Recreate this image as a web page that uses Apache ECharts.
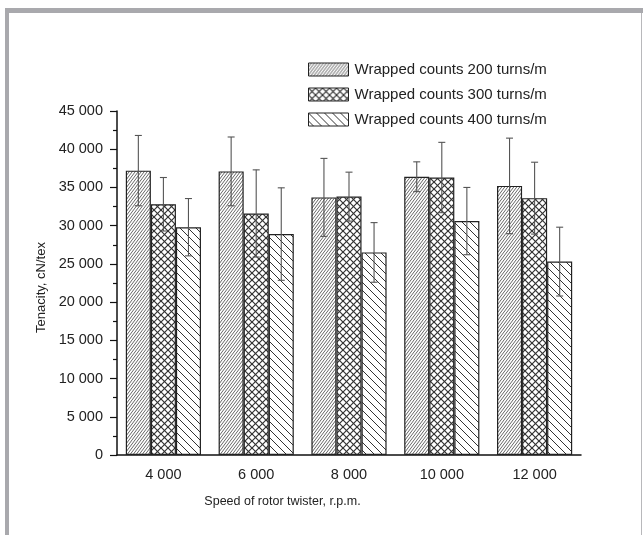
<!DOCTYPE html>
<html>
<head>
<meta charset="utf-8">
<script src="https://cdn.jsdelivr.net/npm/echarts@6/dist/echarts.min.js"></script>
<style>
  html, body { margin: 0; padding: 0; background: #fff; }
  #chart { width: 643px; height: 535px; }
</style>
</head>
<body>
<div id="chart"></div>
<script>
const speeds = ['4 000', '6 000', '8 000', '10 000', '12 000'];
const seriesNames = [
  'Wrapped counts 200 turns/m',
  'Wrapped counts 300 turns/m',
  'Wrapped counts 400 turns/m',
];
const tenacity200 = [37200, 37100, 33700, 36400, 35200];
const tenacity300 = [32800, 31600, 33800, 36300, 33600];
const tenacity400 = [29800, 28900, 26500, 30600, 25300];
const sd200 = [4600, 4500, 5100, 1950, 6250];
const sd300 = [3500, 5700, 3200, 4600, 4700];
const sd400 = [3750, 6050, 3900, 4400, 4500];

const values = [tenacity200, tenacity300, tenacity400];
const errors = [sd200, sd300, sd400];

const FONT = '"Liberation Sans", Arial, sans-serif';
const CAT_GAP = 0.19;

// hatch fill tiles, w x h, lines corner to corner
function hatch(w, h, dirs, lw, color) {
  const c = document.createElement('canvas');
  c.width = w;
  c.height = h;
  const g = c.getContext('2d');
  g.fillStyle = '#fff';
  g.fillRect(0, 0, w, h);
  g.strokeStyle = color;
  g.lineWidth = lw;
  dirs.forEach((d) => {
    for (let k = -w; k <= w; k += w) {
      g.beginPath();
      if (d === '/') {
        g.moveTo(k, h);
        g.lineTo(k + w, 0);
      } else {
        g.moveTo(k, 0);
        g.lineTo(k + w, h);
      }
      g.stroke();
    }
  });
  return { image: c, repeat: 'repeat' };
}

const fills = [
  hatch(3, 4, ['/'], 0.75, '#333'),
  hatch(7, 7, ['/', '\\'], 1.2, '#333'),
  hatch(8, 8, ['\\'], 1, '#333'),
];

const chart = echarts.init(document.getElementById('chart'));

const barSeries = seriesNames.map((name, k) => ({
  name,
  type: 'bar',
  data: values[k],
  barGap: '0%',
  barCategoryGap: CAT_GAP * 100 + '%',
  itemStyle: { color: fills[k], borderColor: '#222', borderWidth: 1.2 },
  z: 2,
}));

const errorSeries = seriesNames.map((name, k) => ({
  name: name + ' SD',
  type: 'custom',
  data: values[k].map((v, i) => [i, v, errors[k][i]]),
  encode: { x: 0, y: 1 },
  z: 5,
  renderItem(params, api) {
    const i = api.value(0);
    const v = api.value(1);
    const e = api.value(2);
    const band = api.size([1, 0])[0];
    const bw = band * (1 - CAT_GAP) / 3;
    const x = api.coord([i, v])[0] + (k - 1) * bw;
    const top = api.coord([i, v + e])[1];
    const bot = api.coord([i, v - e])[1];
    const style = { stroke: '#555', lineWidth: 1.1 };
    const cap = 3.5;
    return {
      type: 'group',
      children: [
        { type: 'line', shape: { x1: x, y1: top, x2: x, y2: bot }, style },
        { type: 'line', shape: { x1: x - cap, y1: top, x2: x + cap, y2: top }, style },
        { type: 'line', shape: { x1: x - cap, y1: bot, x2: x + cap, y2: bot }, style },
      ],
    };
  },
}));

chart.setOption({
  animation: false,
  backgroundColor: '#fff',
  textStyle: { fontFamily: FONT },
  grid: { left: 117, right: 62, top: 111, bottom: 80 },
  legend: {
    data: seriesNames,
    orient: 'vertical',
    left: 308,
    top: 62,
    padding: 0,
    itemWidth: 40,
    itemHeight: 13,
    itemGap: 10,
    icon: 'rect',
    itemStyle: { borderColor: '#222', borderWidth: 1 },
    textStyle: { fontSize: 15, color: '#222', fontFamily: FONT, padding: [0, 0, 0, 1] },
  },
  xAxis: [
    {
      type: 'category',
      data: speeds,
      position: 'bottom',
      name: 'Speed of rotor twister, r.p.m.',
      nameLocation: 'middle',
      nameGap: 40,
      nameTextStyle: { fontSize: 12.5, color: '#222', padding: [0, 133, 0, 0] },
      axisLine: { lineStyle: { color: '#111', width: 1.5 } },
      axisTick: { length: 4, lineStyle: { color: '#111', width: 1.2 } },
      axisLabel: { fontSize: 14.5, color: '#222', margin: 12 },
    },
    {
      type: 'category',
      data: speeds,
      position: 'bottom',
      axisLine: { show: false },
      axisTick: { alignWithLabel: true, length: 7, lineStyle: { color: '#111', width: 1.2 } },
      axisLabel: { show: false },
    },
  ],
  yAxis: {
    type: 'value',
    min: 0,
    max: 45000,
    interval: 5000,
    name: 'Tenacity, cN/tex',
    nameLocation: 'middle',
    nameGap: 66,
    nameTextStyle: { fontSize: 13, color: '#222', padding: [0, 9, 0, 0] },
    splitLine: { show: false },
    axisLine: { show: true, lineStyle: { color: '#111', width: 1.5 } },
    axisTick: { show: true, length: 7, lineStyle: { color: '#111', width: 1.2 } },
    minorTick: { show: true, splitNumber: 2, length: 4, lineStyle: { color: '#111', width: 1.2 } },
    axisLabel: {
      fontSize: 14.5,
      color: '#222',
      margin: 14,
      formatter: (v) => String(v).replace(/\B(?=(\d{3})+$)/g, ' '),
    },
  },
  graphic: [
    { type: 'rect', shape: { x: 5, y: 8, width: 638, height: 5 }, style: { fill: '#a9a9ad' }, silent: true },
    { type: 'rect', shape: { x: 5, y: 8, width: 4, height: 527 }, style: { fill: '#a9a9ad' }, silent: true },
    { type: 'rect', shape: { x: 641, y: 13, width: 1, height: 522 }, style: { fill: '#b8b8bb' }, silent: true },
  ],
  series: [...barSeries, ...errorSeries],
});
</script>
</body>
</html>
